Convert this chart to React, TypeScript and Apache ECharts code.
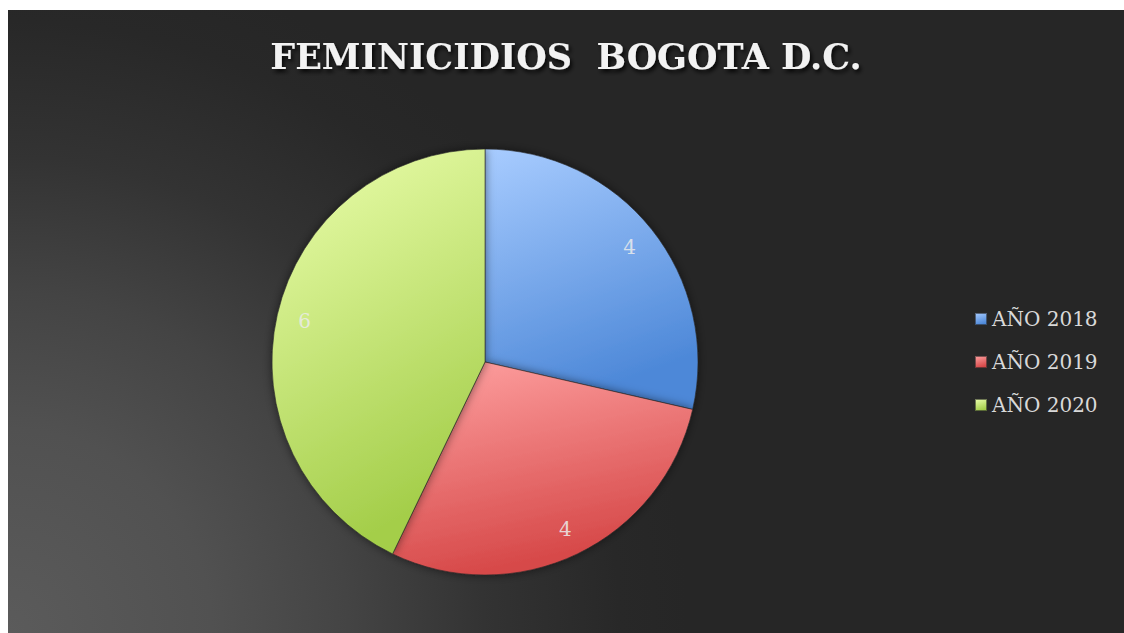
import React, { useEffect, useRef } from "react";
import * as echarts from "echarts";

const TITLE = "FEMINICIDIOS  BOGOTA D.C.";
const categories = ["AÑO 2018", "AÑO 2019", "AÑO 2020"];
const values = [4, 4, 6];
const gradients = [
  ["#a8ccff", "#4d88d8"],
  ["#ffa2a2", "#d64848"],
  ["#ecffae", "#a4ce4a"],
];

export default function App() {
  const ref = useRef<HTMLDivElement>(null);
  useEffect(() => {
    if (!ref.current) return;
    const chart = echarts.init(ref.current, undefined, { renderer: "svg" });
    const W = 1116;
    const H = 623;
    const data = categories.map((name, i) => ({
      name,
      value: values[i],
      itemStyle: {
        color: new echarts.graphic.LinearGradient(0, 0, 0.3, 1, [
          { offset: 0, color: gradients[i][0] },
          { offset: 1, color: gradients[i][1] },
        ]),
      },
    }));
    chart.setOption({
      animation: false,
      graphic: [
        {
          type: "rect",
          z: -10,
          silent: true,
          shape: { x: 0, y: 0, width: W, height: H },
          style: {
            fill: new echarts.graphic.RadialGradient(
              0,
              H,
              680,
              [
                { offset: 0, color: "#5b5b5b" },
                { offset: 0.3, color: "#515151" },
                { offset: 0.5, color: "#444444" },
                { offset: 0.7, color: "#333333" },
                { offset: 0.9, color: "#282828" },
                { offset: 1, color: "#262626" },
              ],
              true
            ),
          },
        },
      ],
      title: {
        text: TITLE,
        left: "center",
        top: 24,
        textStyle: {
          fontFamily: "DejaVu Serif",
          fontWeight: "bold",
          fontSize: 35,
          color: "#f2f2f2",
          textShadowColor: "rgba(0,0,0,0.85)",
          textShadowBlur: 4,
          textShadowOffsetX: 2,
          textShadowOffsetY: 3,
        },
      },
      legend: {
        orient: "vertical",
        left: 961,
        top: 294,
        itemWidth: 12,
        itemHeight: 12,
        itemGap: 23,
        icon: "rect",
        data: categories,
        textStyle: {
          fontFamily: "DejaVu Serif",
          fontSize: 20,
          color: "#d9d9d9",
        },
      },
      series: [
        {
          type: "pie",
          center: [477, 352],
          radius: 213,
          startAngle: 90,
          clockwise: true,
          label: { show: false },
          labelLine: { show: false },
          itemStyle: {
            borderColor: "rgba(40,40,40,0.6)",
            borderWidth: 1,
            shadowBlur: 10,
            shadowColor: "rgba(0,0,0,0.5)",
          },
          emphasis: { disabled: true },
          data,
        },
        {
          type: "pie",
          center: [477, 352],
          radius: [158, 206],
          startAngle: 90,
          clockwise: true,
          silent: true,
          itemStyle: { color: "rgba(0,0,0,0)" },
          label: {
            show: true,
            position: "inside",
            formatter: "{c}",
            fontFamily: "DejaVu Serif",
            fontSize: 20,
            color: "rgba(235,235,235,0.85)",
          },
          labelLine: { show: false },
          emphasis: { disabled: true },
          data: categories.map((name, i) => ({ name, value: values[i] })),
        },
      ],
    });
    return () => chart.dispose();
  }, []);
  return (
    <div
      ref={ref}
      style={{ position: "absolute", left: 8, top: 10, width: 1116, height: 623 }}
    />
  );
}
